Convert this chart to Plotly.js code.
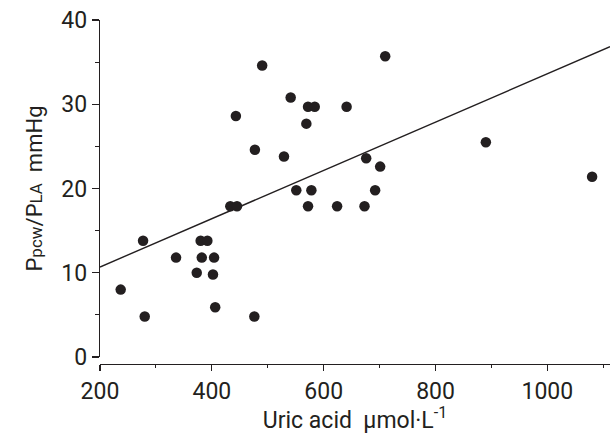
<!DOCTYPE html>
<html>
<head>
<meta charset="utf-8">
<script src="https://cdn.plot.ly/plotly-3.0.1.min.js"></script>
<style>html,body{margin:0;padding:0;background:#fff;}#chart{width:610px;height:434px;}</style>
</head>
<body>
<div id="chart"></div>
<script>
// Uric acid (µmol·L-1)
const uricAcid = [237, 277, 280, 336, 373, 380, 392, 382, 404, 402, 406, 433, 445, 443, 477, 476, 490, 529, 541, 551, 569, 572, 584, 572, 578, 624, 641, 673, 676, 692, 701, 710, 890, 1080];
// Ppcw/PLA (mmHg)
const ppcwPla = [8, 13.8, 4.8, 11.8, 10, 13.8, 13.8, 11.8, 11.8, 9.8, 5.9, 17.9, 17.9, 28.6, 24.6, 4.8, 34.6, 23.8, 30.8, 19.8, 27.7, 29.7, 29.7, 17.9, 19.8, 17.9, 29.7, 17.9, 23.6, 19.8, 22.6, 35.7, 25.5, 21.4];
// Regression line
const fitSlope = 0.02867;
const fitIntercept = 4.95;
const fitX = [200, 1112];
const fitY = fitX.map(x => fitIntercept + fitSlope * x);

const xTicks = [200, 400, 600, 800, 1000];
const xMinor = [300, 500, 700, 900, 1100];
const yTicks = [0, 10, 20, 30, 40];
const yMinor = [5, 15, 25, 35];

const fontFam = 'Roboto, "Liberation Sans", sans-serif';
const ink = '#231f20';

const traces = [
  {x: fitX, y: fitY, mode: 'lines', type: 'scatter', line: {color: ink, width: 1.4}, hoverinfo: 'skip'},
  {x: uricAcid, y: ppcwPla, mode: 'markers', type: 'scatter', marker: {color: ink, size: 10.5}}
];

const layout = {
  width: 610, height: 434,
  margin: {l: 100, r: 0, t: 20, b: 70},
  paper_bgcolor: '#fff', plot_bgcolor: '#fff',
  showlegend: false,
  font: {family: fontFam, color: ink},
  xaxis: {
    range: [200, 1112], anchor: 'free', position: 0,
    showgrid: false, zeroline: false, showline: true, linecolor: ink, linewidth: 1.2,
    tickmode: 'array', tickvals: xTicks, ticktext: xTicks.map(String),
    ticks: 'outside', ticklen: 6, tickcolor: ink, tickwidth: 1.2,
    minor: {tickvals: xMinor, ticks: 'outside', ticklen: 3, tickcolor: ink, tickwidth: 1},
    tickfont: {size: 23, family: fontFam, color: ink},
    title: {text: '\u00a0\u00a0Uric acid  µmol·L<sup>-1</sup>', font: {size: 23, family: fontFam, color: ink}, standoff: 10}
  },
  yaxis: {
    range: [0, 40], domain: [0.0203, 1],
    showgrid: false, zeroline: false, showline: true, linecolor: ink, linewidth: 1.2,
    tickmode: 'array', tickvals: yTicks, ticktext: yTicks.map(String),
    ticks: 'outside', ticklen: 7, tickcolor: ink, tickwidth: 1.2,
    minor: {tickvals: yMinor, ticks: 'outside', ticklen: 4, tickcolor: ink, tickwidth: 1},
    tickfont: {size: 23, family: fontFam, color: ink},
    title: {text: 'P<span style="font-size:17px">pcw</span>/P<span style="font-size:17px">LA</span>  mmHg', font: {size: 22, family: fontFam, color: ink}, standoff: 12}
  }
};

Plotly.newPlot('chart', traces, layout, {displayModeBar: false, staticPlot: true});
</script>
</body>
</html>
